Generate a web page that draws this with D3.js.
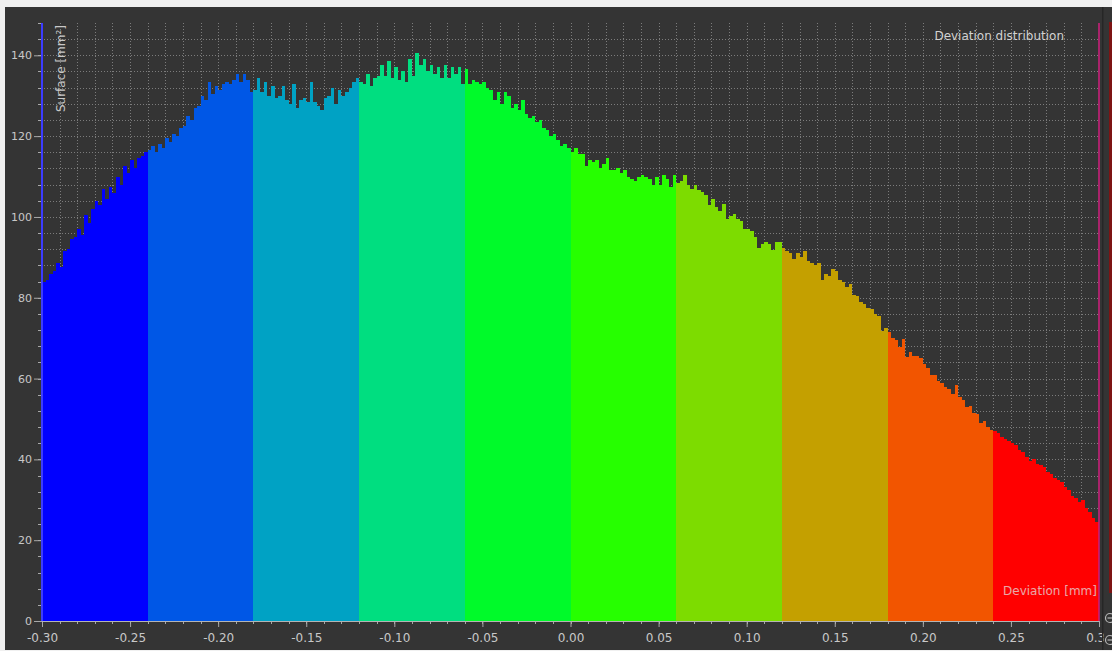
<!DOCTYPE html>
<html>
<head>
<meta charset="utf-8">
<script src="https://cdn.jsdelivr.net/npm/d3@7"></script>
<style>
  html, body { margin: 0; padding: 0; background: #f0f0f0; }
  svg { display: block; font-family: "DejaVu Sans", sans-serif; }
</style>
</head>
<body>
<svg id="chart" width="1112" height="651"></svg>
<script>
// Colour bands of the deviation scale (mm) and their fills
const bandEdges = [-0.30, -0.24, -0.18, -0.12, -0.06, 0.00, 0.06, 0.12, 0.18, 0.24, 0.30];
const bandColors = ["#0000ff", "#0057e6", "#00a2c4", "#00de80", "#00fa2a",
                    "#26ff00", "#7ddc00", "#c4a000", "#f25500", "#ff0000"];

// Axis ticks
const xTickValues = [-0.30, -0.25, -0.20, -0.15, -0.10, -0.05, 0.00, 0.05, 0.10, 0.15, 0.20, 0.25, 0.30];
const yTickValues = [0, 20, 40, 60, 80, 100, 120, 140];

// Histogram: first bin edge and bin width in mm, surface per bin in mm²
const binStart = -0.30;
const binWidth = 0.002;
const surfaceCounts = [
  84, 84.5, 86, 86.5, 88.5, 87.5, 91.5, 92, 94.5, 95, 97, 95.5, 100.5, 98.5, 102, 104, 103, 107, 104.5, 107.5, 106, 110, 108, 112.5, 111, 114, 112, 114.5, 115, 116,
  116.5, 117.5, 116, 118, 117, 119.5, 118.5, 120.5, 120, 122, 122.5, 125, 124, 127, 127.5, 130, 129, 133.5, 130.5, 132.5, 131.5, 133, 133.5, 133, 134, 135.5, 133.5, 135.5, 134, 131,
  131.5, 134.5, 131, 133.5, 130, 132.5, 129.5, 130, 132.5, 129, 128, 133, 127, 129, 129.5, 128.5, 133.5, 128.5, 127.5, 126.5, 129.5, 130, 132, 128, 131.5, 130, 131, 132, 133.5, 134.5,
  133.5, 133, 135.5, 132.5, 134.5, 135, 137.5, 135, 138.5, 134.5, 137, 134, 136, 133.5, 139, 135, 140.5, 137.5, 139, 136, 137.5, 135.5, 137, 134.5, 137.5, 134.5, 137, 135.5, 137, 133,
  136.5, 133, 134, 133.5, 133, 133.5, 132, 131.5, 129, 131, 128, 131, 130, 127, 128, 126.5, 129, 125.5, 124.5, 125, 123.5, 124, 122, 121.5, 120, 120.5, 119, 117.5, 118, 117,
  116, 117, 115.5, 115.5, 112.5, 114, 113.5, 114, 112, 113, 114.5, 111.5, 111.5, 112, 111, 111.5, 110, 109.5, 109, 110, 110.5, 110, 109.5, 108, 110, 108, 110.5, 109.5, 107.5, 110.5,
  108.3, 109, 110.3, 107.8, 107, 108, 106.6, 106.2, 105.5, 102.9, 104.5, 102.5, 101.5, 103.3, 99.6, 100.3, 100.8, 99.5, 99, 97.1, 97, 96.5, 95, 92.2, 93.4, 93.8, 93.4, 91.8, 93.8, 93.8,
  92.2, 91.5, 91, 89.5, 91.2, 90, 91.5, 89, 88.5, 88, 88.5, 84.5, 86, 85.5, 87, 86.5, 84.3, 84, 82.7, 83.5, 80.6, 80.5, 79, 78.5, 77.5, 77.3, 76, 75.5, 71.8, 72.5,
  71.5, 70, 69.5, 67.8, 69.8, 65.4, 66.5, 65.5, 65.5, 65, 63.5, 62.5, 60.8, 61, 59.5, 58.8, 58, 57.3, 56.3, 58.3, 55.5, 54.7, 53, 53.2, 51.4, 51.2, 49, 49.5, 48, 47.2,
  47, 46.5, 45.6, 45, 44.5, 44, 43.5, 42.3, 41.8, 40.5, 39.5, 40.2, 38.8, 38.5, 38, 37, 36.5, 35.3, 35, 34.5, 33.2, 32.5, 31, 30.5, 29.5, 30, 28, 27, 25.5, 24.5
];

const W = 1112, H = 651;
const svg = d3.select("#chart");

const x = d3.scaleLinear().domain([-0.30, 0.30]).range([42, 1099]);
const y = d3.scaleLinear().domain([0, 148]).range([621, 23]);

// Dark panel
svg.append("rect").attr("x", 5).attr("y", 7).attr("width", W - 5).attr("height", H - 8).attr("fill", "#343434");

// Dotted grid
const grid = svg.append("g").attr("stroke", "#7c7c7c").attr("stroke-width", 1).attr("stroke-dasharray", "1,2");
grid.selectAll("line.v").data(x.ticks(60).filter(d => Math.abs(d + 0.30) > 1e-9 && Math.abs(d - 0.30) > 1e-9))
  .join("line").attr("class", "v")
  .attr("x1", d => Math.round(x(d)) + 0.5).attr("x2", d => Math.round(x(d)) + 0.5)
  .attr("y1", y.range()[1]).attr("y2", y(0));
grid.selectAll("line.h").data(d3.range(4, 148, 4))
  .join("line").attr("class", "h")
  .attr("x1", x(-0.30) + 2).attr("x2", x(0.30))
  .attr("y1", d => Math.round(y(d)) + 0.5).attr("y2", d => Math.round(y(d)) + 0.5);

// Histogram bins grouped by colour band
const bins = surfaceCounts.map((v, i) => ({
  x0: +(binStart + i * binWidth).toFixed(4),
  x1: +(binStart + (i + 1) * binWidth).toFixed(4),
  v
}));
const bandOf = b => {
  const c = (b.x0 + b.x1) / 2;
  for (let k = 0; k < bandColors.length; k++) if (c >= bandEdges[k] && c < bandEdges[k + 1]) return k;
  return bandColors.length - 1;
};
const bands = bandColors.map((color, k) => {
  const members = bins.filter(b => bandOf(b) === k);
  const last = members[members.length - 1];
  return { color, points: members.concat([{ x0: last.x1, v: last.v }]) };
});

const area = d3.area()
  .curve(d3.curveStepAfter)
  .x(d => x(d.x0))
  .y0(y(0))
  .y1(d => y(d.v));

svg.append("g").selectAll("path").data(bands).join("path")
  .attr("d", d => area(d.points))
  .attr("fill", d => d.color)
  .attr("shape-rendering", "crispEdges");

// Y axis: minor ticks, major ticks with labels, blue axis line
svg.append("g").selectAll("line").data(d3.range(0, 149, 4)).join("line")
  .attr("x1", x(-0.30) - 4).attr("x2", x(-0.30))
  .attr("y1", d => Math.round(y(d)) + 0.5).attr("y2", d => Math.round(y(d)) + 0.5)
  .attr("stroke", "#a8a8a8");

const yAxis = svg.append("g").attr("transform", `translate(${x(-0.30)},0)`)
  .call(d3.axisLeft(y).tickValues(yTickValues).tickSize(8).tickPadding(2).tickFormat(d3.format("d")));
yAxis.select(".domain").remove();
yAxis.selectAll(".tick line").attr("stroke", "#a8a8a8");
yAxis.selectAll(".tick text").attr("fill", "#c8c8c8").style("font-size", "11px").style("font-family", "DejaVu Sans");

svg.append("line")
  .attr("x1", x(-0.30)).attr("x2", x(-0.30)).attr("y1", y.range()[1]).attr("y2", y(0))
  .attr("stroke", "#3c3cff").attr("stroke-width", 2);

// X axis: clipped where the side panel begins
svg.append("clipPath").attr("id", "xclip")
  .append("rect").attr("x", 0).attr("y", 0).attr("width", 1104).attr("height", H);

const xg = svg.append("g").attr("clip-path", "url(#xclip)");
xg.append("g").selectAll("line").data(x.ticks(60)).join("line")
  .attr("x1", d => Math.round(x(d)) + 0.5).attr("x2", d => Math.round(x(d)) + 0.5)
  .attr("y1", y(0)).attr("y2", y(0) + 3)
  .attr("stroke", "#a8a8a8");

const xAxis = xg.append("g").attr("transform", `translate(0,${y(0)})`)
  .call(d3.axisBottom(x).tickValues(xTickValues).tickSize(6).tickPadding(6).tickFormat(d => d.toFixed(2)));
xAxis.select(".domain").remove();
xAxis.selectAll(".tick line").attr("stroke", "#a8a8a8");
xAxis.selectAll(".tick text").attr("fill", "#c8c8c8").style("font-size", "12px").style("font-family", "DejaVu Sans");

svg.append("line")
  .attr("x1", x(-0.30)).attr("x2", x(0.30)).attr("y1", y(0) + 0.5).attr("y2", y(0) + 0.5)
  .attr("stroke", "#b4b4b4");

// Upper limit marker on the right edge
svg.append("line")
  .attr("x1", x(0.30)).attr("x2", x(0.30)).attr("y1", y.range()[1]).attr("y2", y(0))
  .attr("stroke", "#c8207a").attr("stroke-width", 1.6);

// Side strip
svg.append("rect").attr("x", 1102).attr("y", 7).attr("width", 1.5).attr("height", H - 8).attr("fill", "#262626");
svg.append("rect").attr("x", 1109).attr("y", 22).attr("width", 3).attr("height", 571).attr("fill", "#7d1414");
[618, 640].forEach(cy => {
  svg.append("circle").attr("cx", 1110).attr("cy", cy).attr("r", 4.5)
    .attr("fill", "none").attr("stroke", "#b8b8b8").attr("stroke-width", 1.2);
  svg.append("line").attr("x1", 1107.5).attr("x2", 1112).attr("y1", cy).attr("y2", cy)
    .attr("stroke", "#b8b8b8").attr("stroke-width", 1.2);
});

// Labels
svg.append("text")
  .attr("transform", `translate(64.5,25) rotate(-90)`)
  .attr("text-anchor", "end")
  .attr("fill", "#c8c8c8").style("font-size", "12px")
  .text("Surface [mm²]");

svg.append("text")
  .attr("x", 1064).attr("y", 40).attr("text-anchor", "end")
  .attr("fill", "#d2d2d2").style("font-size", "12px")
  .text("Deviation distribution");

svg.append("text")
  .attr("x", 1097).attr("y", 595).attr("text-anchor", "end")
  .attr("fill", "rgba(225,225,225,0.75)").style("font-size", "12px")
  .text("Deviation [mm]");
</script>
</body>
</html>
